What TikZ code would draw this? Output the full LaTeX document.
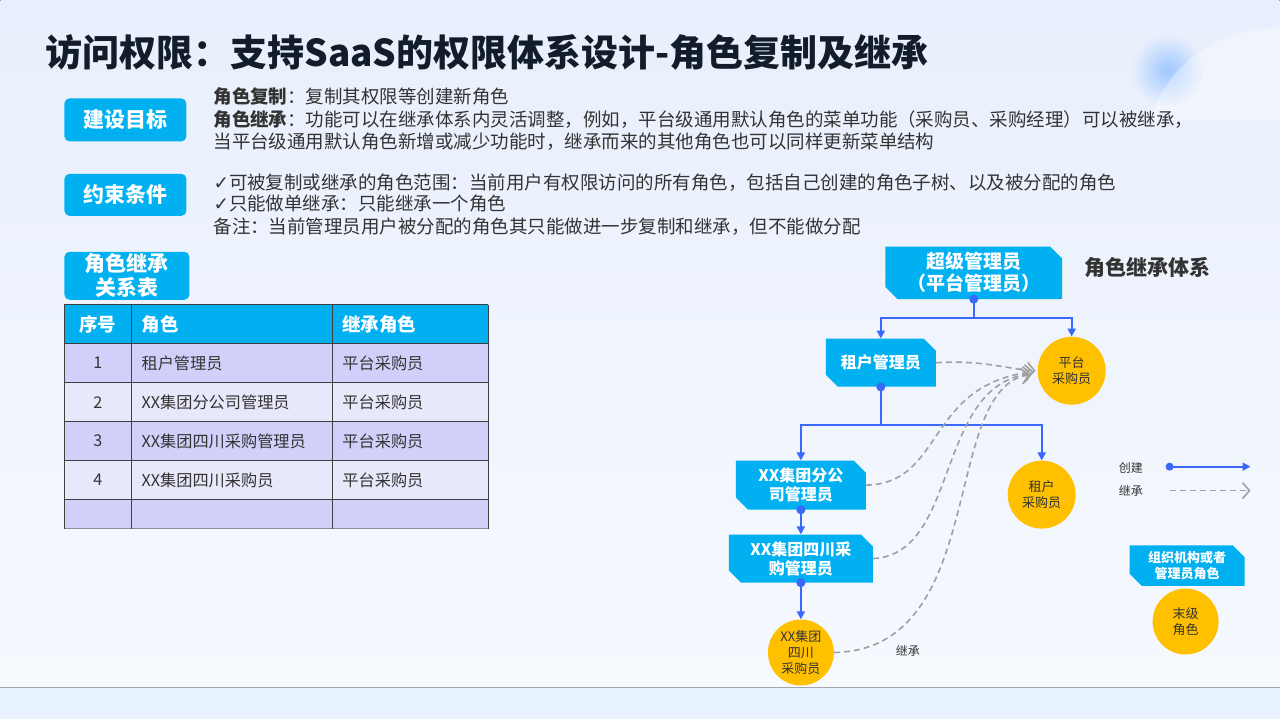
\documentclass[tikz,border=0pt]{standalone}
\usepackage{fontspec}
\setmainfont{Noto Sans CJK SC}
\newfontfamily\symfont{DejaVu Sans}
\usetikzlibrary{arrows.meta,shapes.misc,positioning}
\definecolor{boxblue}{RGB}{0,176,240}
\definecolor{linkblue}{RGB}{58,104,250}
\definecolor{leafgold}{RGB}{255,192,0}
\definecolor{dashgray}{RGB}{160,160,160}
\definecolor{titleink}{RGB}{18,28,42}
\definecolor{bodyink}{RGB}{51,51,51}
\definecolor{rowdark}{RGB}{208,208,250}
\definecolor{rowlight}{RGB}{232,232,251}
\definecolor{bgtop}{RGB}{232,239,252}
\definecolor{bgbottom}{RGB}{246,249,254}
\definecolor{stripblue}{RGB}{232,241,254}
\definecolor{glowblue}{RGB}{160,200,255}
\begin{document}
\begin{tikzpicture}[x=1pt, y=-1pt,
  body/.style={anchor=west, inner sep=0pt, text=bodyink, font=\fontsize{18.5pt}{21pt}\selectfont},
  goalbox/.style={fill=boxblue, rounded corners=5pt, text=white, align=center, font=\fontsize{21pt}{24pt}\selectfont\bfseries},
  rolebox/.style={chamfered rectangle, chamfered rectangle corners={north east,south west}, chamfered rectangle xsep=6pt, chamfered rectangle ysep=6pt, fill=boxblue, text=white, align=center, inner sep=0pt, font=\fontsize{16pt}{19pt}\selectfont\bfseries},
  leafrole/.style={circle, fill=leafgold, text=bodyink, align=center, inner sep=0pt, minimum size=68pt, font=\fontsize{13pt}{16pt}\selectfont},
  cell/.style={inner sep=0pt, text=bodyink, font=\fontsize{16.2pt}{19pt}\selectfont},
  headcell/.style={inner sep=0pt, text=white, font=\fontsize{18.5pt}{21pt}\selectfont\bfseries},
  create/.style={linkblue, line width=2pt, -{Triangle[length=8pt,width=8pt]}},
  inherit/.style={dashgray, line width=1.6pt, dash pattern=on 6pt off 4pt, -{Straight Barb[length=7pt,width=16pt]}},
  legendtext/.style={inner sep=0pt, text=bodyink, font=\fontsize{12pt}{14pt}\selectfont}
]
\fill[top color=bgtop, bottom color=bgbottom] (0,0) rectangle (1280,688);
\fill[stripblue] (0,688) rectangle (1280,720);
\draw[gray!70, line width=1pt] (0,688) -- (1280,688);
\shade[inner color=glowblue, outer color=bgtop] (1168,70) circle[radius=36pt];
\fill[white, opacity=.35] (1150,120) .. controls (1170,60) and (1220,30) .. (1280,27) -- (1280,120) -- cycle;

\node[anchor=west, inner sep=0pt, text=titleink, font=\fontsize{37pt}{42pt}\selectfont\bfseries] (title) at (45,52) {访问权限：支持SaaS的权限体系设计-角色复制及继承};

\node[goalbox, minimum width=122pt, minimum height=43pt] (goal) at (125,120) {建设目标};
\node[body] (goal1) at (213,97) {\textbf{角色复制}：复制其权限等创建新角色};
\node[body] (goal2) at (213,120) {\textbf{角色继承}：功能可以在继承体系内灵活调整，例如，平台级通用默认角色的菜单功能（采购员、采购经理）可以被继承，};
\node[body] (goal3) at (213,142) {当平台级通用默认角色新增或减少功能时，继承而来的其他角色也可以同样更新菜单结构};

\node[goalbox, minimum width=122pt, minimum height=42pt] (limit) at (125,195) {约束条件};
\node[body] (rule1) at (213,183) {{\symfont ✓}可被复制或继承的角色范围：当前用户有权限访问的所有角色，包括自己创建的角色子树、以及被分配的角色};
\node[body] (rule2) at (213,204) {{\symfont ✓}只能做单继承：只能继承一个角色};
\node[body] (rule3) at (213,227) {备注：当前管理员用户被分配的角色其只能做进一步复制和继承，但不能做分配};

\node[goalbox, minimum width=125pt, minimum height=48pt, inner sep=0pt, font=\fontsize{21pt}{24pt}\selectfont\bfseries] (tablecap) at (126.5,276) {角色继承\\关系表};

\fill[boxblue] (64,305) rectangle (488,344);
\foreach \y/\c in {344/rowdark,383/rowlight,422/rowdark,461/rowlight} {
  \fill[\c] (64,\y) rectangle (488,\y+39);
}
\fill[rowdark] (64,500) rectangle (488,529);
\foreach \y in {305,344,383,422,461,500} {
  \draw[black!75, line width=1.2pt] (64,\y) -- (488,\y);
}
\draw[black!45, line width=1.2pt] (64,529) -- (488,529);
\foreach \x in {64,131,332,488} {
  \draw[black!75, line width=1.2pt] (\x,305) -- (\x,529);
}
\node[headcell] (hno) at (97.5,324.5) {序号};
\node[headcell, anchor=west] (hrole) at (141,324.5) {角色};
\node[headcell, anchor=west] (hparent) at (342,324.5) {继承角色};
\foreach \i/\role in {1/租户管理员,2/XX集团分公司管理员,3/XX集团四川采购管理员,4/XX集团四川采购员} {
  \node[cell] (no\i) at (97.5,324.5+39*\i) {\i};
  \node[cell, anchor=west] (role\i) at (141,324.5+39*\i) {\role};
  \node[cell, anchor=west] (parent\i) at (342,324.5+39*\i) {平台采购员};
}

\node[rolebox, minimum width=177pt, minimum height=48pt, font=\fontsize{19pt}{22pt}\selectfont\bfseries] (super) at (974,273) {超级管理员\\（平台管理员）};
\node[anchor=west, inner sep=0pt, text=bodyink, font=\fontsize{21pt}{24pt}\selectfont\bfseries] (systitle) at (1085,268) {角色继承体系};
\node[rolebox, minimum width=110pt, minimum height=48pt] (tenant) at (881,363) {租户管理员};
\node[leafrole] (platbuyer) at (1072,371) {平台\\采购员};
\node[rolebox, minimum width=130pt, minimum height=49pt] (branch) at (801,485.5) {XX集团分公\\司管理员};
\node[leafrole] (tenantbuyer) at (1042,495) {租户\\采购员};
\node[rolebox, minimum width=144pt, minimum height=48pt] (scadmin) at (801,559) {XX集团四川采\\购管理员};
\node[leafrole, minimum size=66pt] (scbuyer) at (801,653) {XX集团\\四川\\采购员};

\coordinate (fork1) at (974,318);
\coordinate (fork2) at (881,425);
\draw[linkblue, line width=2pt] (super.south) -- (fork1);
\draw[create] (fork1) -| (tenant.north);
\draw[create] (fork1) -| (platbuyer.north);
\fill[linkblue] (super.south) circle[radius=4.5pt];
\draw[linkblue, line width=2pt] (tenant.south) -- (fork2);
\draw[create] (fork2) -| (branch.north);
\draw[create] (fork2) -| (tenantbuyer.north);
\fill[linkblue] (tenant.south) circle[radius=4.5pt];
\draw[create] (branch.south) -- (scadmin.north);
\fill[linkblue] (branch.south) circle[radius=4.5pt];
\draw[create] (scadmin.south) -- (scbuyer.north);
\fill[linkblue] (scadmin.south) circle[radius=4.5pt];

\draw[inherit] (tenant.east) .. controls (985,360) and (1010,370) .. ([xshift=-2pt]platbuyer.west);
\draw[inherit] (branch.east) .. controls (945,484) and (925,385) .. ([xshift=-4pt,yshift=-1pt]platbuyer.west);
\draw[inherit] (scadmin.east) .. controls (960,555) and (935,385) .. ([xshift=-6pt,yshift=-3pt]platbuyer.west);
\draw[inherit] (scbuyer.east) .. controls (990,650) and (940,390) .. ([xshift=-8pt,yshift=-4pt]platbuyer.west);
\node[legendtext] (inhnote) at (908,651) {继承};

\node[legendtext, anchor=west] (lcreate) at (1119,468) {创建};
\node[legendtext, anchor=west] (linherit) at (1119,491) {继承};
\coordinate (lc1) at (1170,467);
\coordinate (lc2) at (1251,467);
\coordinate (li1) at (1170,491);
\coordinate (li2) at (1251,491);
\draw[create] (lc1) -- (lc2);
\fill[linkblue] (lc1) circle[radius=4pt];
\draw[inherit] (li1) -- (li2);

\node[rolebox, minimum width=115pt, minimum height=38pt, font=\fontsize{13pt}{16pt}\selectfont\bfseries] (orgrole) at (1187.5,566) {组织机构或者\\管理员角色};
\node[leafrole, minimum size=66pt] (lastrole) at (1186,622) {末级\\角色};
\end{tikzpicture}
\end{document}
